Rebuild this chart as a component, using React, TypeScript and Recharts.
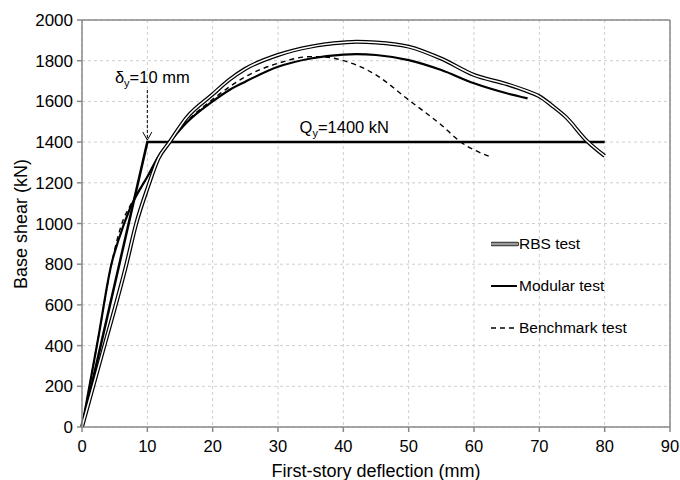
import React from "react";
import {
  LineChart,
  Line,
  XAxis,
  YAxis,
  CartesianGrid,
  ReferenceLine,
  ReferenceDot,
  Legend,
} from "recharts";

const rbsX = [0, 3, 6.8, 8.3, 10.1, 11.7, 13.4, 16, 20, 22.5, 25, 30, 35, 40, 42, 45, 50, 55, 60, 65, 68, 70, 72, 74, 77.3, 80];
const rbsY = [0, 350, 800, 1000, 1180, 1320, 1400, 1520, 1635, 1705, 1760, 1828, 1869, 1889, 1893, 1890, 1869, 1810, 1730, 1685, 1652, 1625, 1578, 1525, 1405, 1332];

const modX = [0, 2.5, 4.5, 5.6, 7.3, 10, 12, 13.4, 16, 20, 22.5, 25, 30, 35, 40, 42, 45, 50, 55, 60, 65, 68.2];
const modY = [0, 440, 800, 920, 1070, 1230, 1345, 1400, 1495, 1600, 1655, 1697, 1770, 1811, 1830, 1832, 1828, 1803, 1754, 1689, 1640, 1615];

const benX = [0, 2.5, 4.5, 6.3, 7.3, 10, 12, 13.4, 16, 20, 22.5, 25, 30, 35, 38, 40, 42, 45, 50, 55, 58, 62.5];
const benY = [0, 440, 800, 1017, 1083, 1230, 1345, 1400, 1500, 1610, 1670, 1721, 1787, 1820, 1815, 1800, 1779, 1730, 1607, 1484, 1400, 1328];

const bilX = [0, 10, 80];
const bilY = [0, 1400, 1400];

const xTicks = [0, 10, 20, 30, 40, 50, 60, 70, 80, 90];
const yTicks = [0, 200, 400, 600, 800, 1000, 1200, 1400, 1600, 1800, 2000];

const seriesNames = ["RBS test", "Modular test", "Benchmark test"];

const toData = (xs: number[], ys: number[]) => xs.map((x, i) => ({ x, y: ys[i] }));

const rbsData = toData(rbsX, rbsY);
const modData = toData(modX, modY);
const benData = toData(benX, benY);
const bilData = toData(bilX, bilY);

const FONT = "'Liberation Sans', Arial, Helvetica, sans-serif";

const LegendContent = () => (
  <div style={{ fontFamily: FONT, fontSize: 15.5, color: "#000" }}>
    {seriesNames.map((name, i) => (
      <div key={name} style={{ height: 42, display: "flex", alignItems: "center" }}>
        <svg width={28} height={10} style={{ display: "block" }}>
          {i === 0 && (
            <>
              <line x1={1} y1={5} x2={26} y2={5} stroke="#333" strokeWidth={4.5} strokeLinecap="round" />
              <line x1={1} y1={5} x2={26} y2={5} stroke="#999" strokeWidth={2.5} strokeLinecap="round" />
            </>
          )}
          {i === 1 && <line x1={0} y1={5} x2={26} y2={5} stroke="#000" strokeWidth={2} />}
          {i === 2 && <line x1={0} y1={5} x2={26} y2={5} stroke="#000" strokeWidth={1.3} strokeDasharray="5 4" />}
        </svg>
        <span>{name}</span>
      </div>
    ))}
  </div>
);

export default function App() {
  return (
    <div style={{ position: "fixed", left: 0, top: 0, background: "#fff" }}>
      <LineChart
        width={680}
        height={480}
        margin={{ top: 20, right: 10, bottom: 0, left: 0 }}
        style={{ fontFamily: FONT }}
      >
        <CartesianGrid stroke="#cfcfcf" strokeDasharray="3 3" />
        <XAxis
          type="number"
          dataKey="x"
          domain={[0, 90]}
          ticks={xTicks}
          interval={0}
          height={53}
          tickSize={5}
          tickMargin={8}
          stroke="#888"
          strokeWidth={1.5}
          tick={{ fill: "#000", fontSize: 16.5 }}
          label={{
            value: "First-story deflection (mm)",
            position: "insideBottom",
            offset: 3,
            fill: "#000",
            fontSize: 18,
          }}
        />
        <YAxis
          type="number"
          domain={[0, 2000]}
          ticks={yTicks}
          interval={0}
          width={82}
          tickSize={5}
          tickMargin={4}
          stroke="#888"
          strokeWidth={1.5}
          tick={{ fill: "#000", fontSize: 17 }}
          label={{
            content: () => (
              <text
                x={21}
                y={224}
                transform="rotate(-90 21 224)"
                textAnchor="middle"
                dominantBaseline="central"
                fill="#000"
                fontSize={18}
                fontFamily={FONT}
              >
                Base shear (kN)
              </text>
            ),
          }}
        />
        <ReferenceLine y={2000} stroke="#888" strokeWidth={1.5} />
        <ReferenceLine x={90} stroke="#888" strokeWidth={1.5} />

        <Line data={bilData} dataKey="y" type="linear" stroke="#000" strokeWidth={2.5} dot={false} isAnimationActive={false} legendType="none" />
        <Line data={benData} dataKey="y" type="monotone" stroke="#000" strokeWidth={1.4} strokeDasharray="5 4" dot={false} isAnimationActive={false} name={seriesNames[2]} />
        <Line data={modData} dataKey="y" type="monotone" stroke="#000" strokeWidth={2.2} dot={false} isAnimationActive={false} name={seriesNames[1]} />
        <Line data={rbsData} dataKey="y" type="monotone" stroke="#000" strokeWidth={4} dot={false} isAnimationActive={false} name={seriesNames[0]} />
        <Line data={rbsData} dataKey="y" type="monotone" stroke="#fff" strokeWidth={1.5} dot={false} isAnimationActive={false} legendType="none" />

        <ReferenceLine
          segment={[{ x: 10, y: 1656 }, { x: 10, y: 1415 }]}
          stroke="#000"
          strokeWidth={1}
          strokeDasharray="3 2"
        />
        <ReferenceDot
          x={10}
          y={1410}
          r={0}
          shape={(p: any) => (
            <path
              d={`M${p.cx - 4.5},${p.cy - 8} L${p.cx},${p.cy} L${p.cx + 4.5},${p.cy - 8}`}
              fill="none"
              stroke="#000"
              strokeWidth={1}
            />
          )}
        />
        <ReferenceDot
          x={5.04}
          y={1688}
          r={0}
          shape={(p: any) => (
            <text x={p.cx} y={p.cy} fill="#000" fontSize={16.5} fontFamily={FONT}>
              δ<tspan dy={4} fontSize={11}>y</tspan>
              <tspan dy={-4}>=10 mm</tspan>
            </text>
          )}
        />
        <ReferenceDot
          x={33.3}
          y={1445}
          r={0}
          shape={(p: any) => (
            <text x={p.cx} y={p.cy} fill="#000" fontSize={16.5} fontFamily={FONT}>
              Q<tspan dy={4} fontSize={11}>y</tspan>
              <tspan dy={-4}>=1400 kN</tspan>
            </text>
          )}
        />
        <Legend
          layout="horizontal"
          verticalAlign="middle"
          align="center"
          content={<LegendContent />}
          wrapperStyle={{ position: "absolute", left: 491, top: 223, width: 170 }}
        />
      </LineChart>
    </div>
  );
}
